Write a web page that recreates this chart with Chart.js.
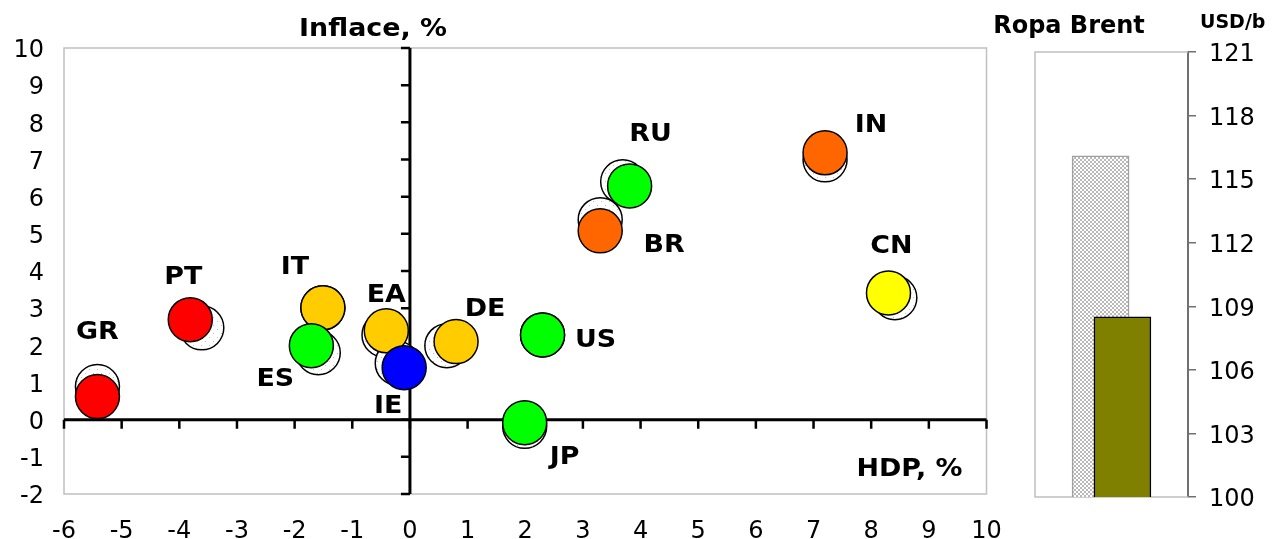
<!DOCTYPE html>
<html lang="cs">
<head>
<meta charset="utf-8">
<title>HDP, inflace a ropa Brent</title>
<script src="https://cdn.jsdelivr.net/npm/chart.js@4/dist/chart.umd.min.js"></script>
<style>
    html, body { margin: 0; padding: 0; background: #fff; }
    .wrap { position: relative; width: 1277px; height: 539px; overflow: hidden; }
    #scatterChart { position: absolute; left: 0; top: 0; }
    #brentChart { position: absolute; left: 985px; top: 0; }
</style>
</head>
<body>
<div class="wrap">
    <canvas id="scatterChart" width="1010" height="539"></canvas>
    <canvas id="brentChart" width="292" height="539"></canvas>
</div>
<script>
const countries = ["GR", "PT", "IT", "ES", "EA", "IE", "DE", "US", "JP", "RU", "BR", "IN", "CN"];
const gdpNow = [-5.42, -3.81, -1.51, -1.71, -0.41, -0.10, 0.80, 2.30, 1.99, 3.81, 3.30, 7.20, 8.30];
const inflationNow = [0.62, 2.69, 3.01, 1.99, 2.39, 1.40, 2.10, 2.28, -0.08, 6.29, 5.08, 7.18, 3.41];
const gdpPrev = [-5.42, -3.61, -1.51, -1.59, -0.45, -0.22, 0.64, 2.30, 1.99, 3.69, 3.30, 7.20, 8.41];
const inflationPrev = [0.89, 2.47, 3.01, 1.80, 2.28, 1.52, 1.99, 2.28, -0.18, 6.40, 5.38, 6.99, 3.28];

const gdpTicks = { min: -6, max: 10, step: 1 };
const inflationTicks = { min: -2, max: 10, step: 1 };

const brentLabels = ["předchozí", "aktuální"];
const brentValues = [116.1, 108.5];
const brentTicks = { min: 100, max: 121, step: 3 };

// styles
const FONT = "'DejaVu Sans', Verdana, sans-serif";
const TEXT_STRETCH = 1.12; // the original lettering is a bit wider than DejaVu
const countryColors = ["#ff0000", "#ff0000", "#ffcc00", "#00ff00", "#ffcc00", "#0000ff", "#ffcc00",
    "#00ff00", "#00ff00", "#00ff00", "#ff6600", "#ff6600", "#ffff00"];
// label position relative to the current point, in px
const labelShift = [[0, -67], [-7, -45], [-28, -43], [-36, 31], [0, -38], [-16, 36], [29, -35],
    [53, 3], [40, 32], [21, -54], [64, 12], [46, -30], [3, -49]];

const scatterCanvas = document.getElementById("scatterChart");
const brentCanvas = document.getElementById("brentChart");

const makePattern = (target, size, draw) => {
    const tile = document.createElement("canvas");
    tile.width = size;
    tile.height = size;
    draw(tile.getContext("2d"));
    return target.getContext("2d").createPattern(tile, "repeat");
};

const dotted = makePattern(scatterCanvas, 8, g => {
    g.fillStyle = "#ffffff";
    g.fillRect(0, 0, 8, 8);
    g.fillStyle = "#bdbdbd";
    g.fillRect(1, 1, 1, 1);
    g.fillRect(5, 5, 1, 1);
});

const crossHatch = makePattern(brentCanvas, 4, g => {
    g.fillStyle = "#ffffff";
    g.fillRect(0, 0, 4, 4);
    g.fillStyle = "#b8b8b8";
    for (let i = 0; i < 4; i++) {
        g.fillRect(i, i, 1, 1);
        g.fillRect(3 - i, i, 1, 1);
    }
});

// draw text stretched horizontally around its anchor
const wideText = (ctx, text, x, y) => {
    ctx.save();
    ctx.translate(x, y);
    ctx.scale(TEXT_STRETCH, 1);
    ctx.fillText(text, 0, 0);
    ctx.restore();
};

const frameAndZeroAxes = {
    id: "frameAndZeroAxes",
    beforeDatasetsDraw(chart) {
        const { ctx, chartArea: a, scales: { x, y } } = chart;
        const x0 = x.getPixelForValue(0);
        const y0 = y.getPixelForValue(0);
        ctx.save();
        ctx.strokeStyle = "#c0c0c0";
        ctx.lineWidth = 1.5;
        ctx.strokeRect(a.left, a.top, a.right - a.left, a.bottom - a.top);

        ctx.strokeStyle = "#000";
        ctx.lineWidth = 3;
        ctx.beginPath();
        ctx.moveTo(a.left, y0);
        ctx.lineTo(a.right, y0);
        ctx.moveTo(x0, a.top);
        ctx.lineTo(x0, a.bottom);
        ctx.stroke();

        ctx.lineWidth = 2.5;
        ctx.beginPath();
        x.ticks.forEach(t => {
            const px = x.getPixelForValue(t.value);
            ctx.moveTo(px, y0);
            ctx.lineTo(px, y0 + 9);
        });
        y.ticks.forEach(t => {
            const py = y.getPixelForValue(t.value);
            ctx.moveTo(x0, py);
            ctx.lineTo(x0 - 9, py);
        });
        ctx.stroke();
        ctx.restore();
    }
};

const scatterText = {
    id: "scatterText",
    afterDatasetsDraw(chart) {
        const { ctx, chartArea: a, scales: { x, y } } = chart;
        ctx.save();
        ctx.fillStyle = "#000";
        ctx.font = `bold 24px ${FONT}`;
        ctx.textAlign = "center";
        ctx.textBaseline = "middle";
        countries.forEach((name, i) => {
            const px = x.getPixelForValue(gdpNow[i]) + labelShift[i][0];
            const py = y.getPixelForValue(inflationNow[i]) + labelShift[i][1] + 3;
            wideText(ctx, name, px, py);
        });

        // axis titles
        ctx.textAlign = "right";
        ctx.textBaseline = "alphabetic";
        wideText(ctx, "Inflace, %", x.getPixelForValue(0) + 37, a.top - 12);
        wideText(ctx, "HDP, %", a.right - 24, a.bottom - 18);
        ctx.restore();
    }
};

new Chart(scatterCanvas, {
    type: "scatter",
    data: {
        datasets: [
            {
                label: "aktuální",
                data: countries.map((c, i) => ({ x: gdpNow[i], y: inflationNow[i] })),
                pointBackgroundColor: countryColors,
                pointBorderColor: "#000",
                pointBorderWidth: 1.5,
                pointRadius: 22,
                pointHoverRadius: 22,
                order: 0,
            },
            {
                label: "předchozí",
                data: countries.map((c, i) => ({ x: gdpPrev[i], y: inflationPrev[i] })),
                pointBackgroundColor: dotted,
                pointBorderColor: "#000",
                pointBorderWidth: 1.5,
                pointRadius: 22,
                pointHoverRadius: 22,
                order: 1,
            },
        ],
    },
    options: {
        responsive: false,
        animation: false,
        events: [],
        layout: { padding: { top: 48, right: 21, left: 0, bottom: 0 } },
        plugins: {
            legend: { display: false },
            tooltip: { enabled: false },
        },
        scales: {
            x: {
                min: gdpTicks.min,
                max: gdpTicks.max,
                grid: { display: false, drawTicks: false },
                border: { display: false },
                ticks: { stepSize: gdpTicks.step, color: "#000", padding: 23, maxRotation: 0, font: { family: FONT, size: 24 } },
                afterFit: s => {
                    s.height = 45;
                    s.paddingLeft = 0;
                    s.paddingRight = 0;
                },
            },
            y: {
                min: inflationTicks.min,
                max: inflationTicks.max,
                grid: { display: false, drawTicks: false },
                border: { display: false },
                ticks: { stepSize: inflationTicks.step, color: "#000", padding: 20, labelOffset: 3, font: { family: FONT, size: 24 } },
                afterFit: s => {
                    s.width = 64;
                    s.paddingTop = 0;
                    s.paddingBottom = 0;
                },
            },
        },
    },
    plugins: [frameAndZeroAxes, scatterText],
});

const brentFrame = {
    id: "brentFrame",
    beforeDatasetsDraw(chart) {
        const { ctx, chartArea: a } = chart;
        ctx.save();
        ctx.strokeStyle = "#c0c0c0";
        ctx.lineWidth = 1.5;
        ctx.beginPath();
        ctx.moveTo(a.right, a.top);
        ctx.lineTo(a.left, a.top);
        ctx.lineTo(a.left, a.bottom);
        ctx.lineTo(a.right, a.bottom);
        ctx.stroke();
        ctx.restore();
    },
    afterDraw(chart) {
        const { ctx, chartArea: a } = chart;
        ctx.save();
        ctx.fillStyle = "#000";
        ctx.textBaseline = "alphabetic";
        ctx.textAlign = "center";
        ctx.font = `bold 24px ${FONT}`;
        ctx.fillText("Ropa Brent", a.left + 34, 33);
        ctx.textAlign = "left";
        ctx.font = `bold 19px ${FONT}`;
        ctx.fillText("USD/b", a.right + 12, 28);
        ctx.restore();
    }
};

new Chart(brentCanvas, {
    type: "bar",
    data: {
        labels: brentLabels,
        datasets: [{
            data: brentValues.map((v, i) => ({ x: i, y: v })),
            backgroundColor: [crossHatch, "#808000"],
            borderColor: ["#a0a0a0", "#000"],
            borderWidth: 1.5,
            borderSkipped: false,
            barThickness: 57,
        }],
    },
    options: {
        responsive: false,
        animation: false,
        events: [],
        layout: { padding: { top: 52, bottom: 42, left: 50, right: 0 } },
        plugins: {
            legend: { display: false },
            tooltip: { enabled: false },
        },
        scales: {
            x: { type: "linear", display: false, min: -3, max: 4, offset: false },
            y: {
                position: "right",
                min: brentTicks.min,
                max: brentTicks.max,
                grid: { drawOnChartArea: false, drawTicks: true, tickLength: 8, color: "#707070", lineWidth: 1.5 },
                border: { color: "#707070", width: 2 },
                ticks: { stepSize: brentTicks.step, color: "#000", padding: 13, labelOffset: 3, font: { family: FONT, size: 24 } },
                afterFit: s => {
                    s.width = 89;
                    s.paddingTop = 0;
                    s.paddingBottom = 0;
                },
            },
        },
    },
    plugins: [brentFrame],
});
</script>
</body>
</html>
